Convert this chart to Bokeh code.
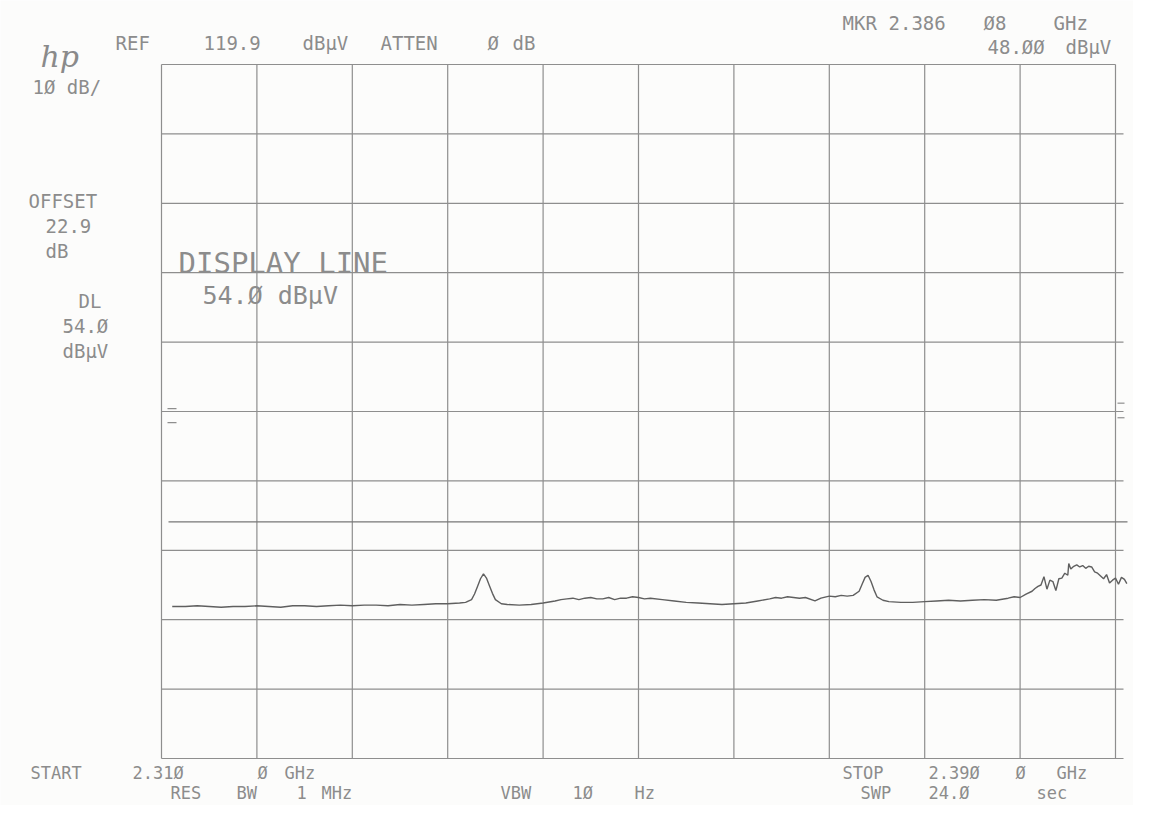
from bokeh.plotting import figure
from bokeh.models import Range1d, Label
from bokeh.embed import file_html
from bokeh.resources import INLINE

# ---------------- chart values ----------------
start_mhz = 2310.0
stop_mhz = 2390.0
ref_level_dbuv = 119.9
db_per_div = 10
n_xdiv = 10
n_ydiv = 10
display_line_dbuv = 54.0
marker_mhz = 2386.08
marker_dbuv = 48.00
left_marks_dbuv = [70.3, 68.3]
right_marks_dbuv = [71.1, 69.0]

freq_mhz = [
    2310.9, 2312, 2313, 2314, 2315, 2316, 2317, 2318, 2319, 2320,
    2321, 2322, 2323, 2324, 2325, 2326, 2327, 2328, 2329, 2330,
    2331, 2332, 2333, 2334, 2335, 2335.5, 2336.0, 2336.25, 2336.5, 2336.75,
    2337.0, 2337.25, 2337.5, 2337.75, 2338.0, 2338.5, 2339, 2340, 2341, 2342,
    2343, 2343.5, 2344, 2344.5, 2345, 2345.5, 2346, 2346.5, 2347, 2347.5,
    2348, 2348.5, 2349, 2349.5, 2350, 2350.5, 2351, 2352, 2353, 2354,
    2355, 2356, 2357, 2358, 2359, 2360, 2361, 2361.5, 2362, 2362.5,
    2363, 2363.5, 2364, 2364.8, 2365.3, 2366, 2366.5, 2367, 2367.5, 2368,
    2368.5, 2368.75, 2369.0, 2369.25, 2369.5, 2369.75, 2370.0, 2370.5, 2371, 2372,
    2373, 2374, 2375, 2376, 2377, 2378, 2379, 2380, 2381, 2381.5,
    2382, 2382.5, 2383, 2383.25, 2383.5, 2383.75, 2384.0, 2384.25, 2384.5, 2384.75,
    2385.0, 2385.25, 2385.5, 2385.75, 2386.0, 2386.08, 2386.25, 2386.5, 2386.75, 2387.0,
    2387.25, 2387.5, 2387.75, 2388.0, 2388.25, 2388.5, 2388.75, 2389.0, 2389.25, 2389.5,
    2389.75, 2390.0, 2390.25, 2390.5, 2390.75, 2390.95,
]
level_dbuv = [
    41.8, 41.8, 41.9, 41.8, 41.7, 41.8, 41.8, 41.9, 41.8, 41.7,
    41.9, 41.9, 41.8, 41.9, 42.0, 41.9, 42.0, 42.0, 41.9, 42.1,
    42.0, 42.1, 42.2, 42.2, 42.3, 42.4, 42.8, 43.6, 44.7, 45.8,
    46.5, 45.9, 44.8, 43.7, 42.8, 42.2, 42.1, 42.0, 42.1, 42.3,
    42.6, 42.8, 42.9, 43.0, 42.8, 43.0, 43.1, 42.9, 42.9, 43.1,
    42.8, 43.0, 43.0, 43.2, 43.1, 42.9, 43.0, 42.8, 42.6, 42.4,
    42.3, 42.2, 42.1, 42.2, 42.3, 42.6, 42.9, 43.1, 43.0, 43.2,
    43.1, 43.0, 43.1, 42.6, 43.0, 43.3, 43.2, 43.4, 43.3, 43.4,
    44.0, 45.0, 46.0, 46.3, 45.4, 44.2, 43.2, 42.7, 42.5, 42.4,
    42.4, 42.5, 42.6, 42.7, 42.6, 42.7, 42.8, 42.7, 43.0, 43.2,
    43.1, 43.6, 44.0, 44.4, 44.7, 44.9, 46.1, 44.3, 45.6, 45.4,
    44.1, 45.8, 45.9, 46.6, 46.3, 48.0, 47.2, 47.6, 47.8, 47.5,
    47.7, 47.3, 47.6, 47.5, 46.8, 46.6, 46.2, 45.8, 46.4, 45.2,
    45.6, 45.9, 45.0, 46.0, 45.7, 45.1,
]

# ---------------- layout (pixel geometry of the reference) ----------------
W, H = 1133, 805
GL, GR, GT, GB = 161, 1115, 64, 758   # grid box in picture pixels

px_per_mhz = (GR - GL) / (stop_mhz - start_mhz)
px_per_db = (GB - GT) / (db_per_div * n_ydiv)
x_start = start_mhz - GL / px_per_mhz
x_end = x_start + W / px_per_mhz
y_top = ref_level_dbuv + GT / px_per_db
y_bottom = y_top - H / px_per_db


def X(px):
    return x_start + px / px_per_mhz


def Y(py):
    return y_top - py / px_per_db


PAPER = "#fcfcfb"
GRID_C = "#8e8e8e"
TEXT_C = "#8c8c8c"
TRACE_C = "#5f5f5f"
FONT = "DejaVu Sans Mono"

p = figure(width=W, height=H, x_range=Range1d(x_start, x_end),
           y_range=Range1d(y_bottom, y_top), output_backend="svg",
           toolbar_location=None, min_border=0, x_axis_location=None,
           y_axis_location=None, background_fill_color=PAPER,
           border_fill_color=PAPER)
p.grid.visible = False
p.outline_line_color = None

bottom_level = ref_level_dbuv - db_per_div * n_ydiv
div_mhz = (stop_mhz - start_mhz) / n_xdiv

# vertical grid lines
vx = [start_mhz + k * div_mhz for k in range(n_xdiv + 1)]
p.segment(x0=vx, y0=[bottom_level] * len(vx), x1=vx,
          y1=[ref_level_dbuv] * len(vx), line_color=GRID_C, line_width=1.2)

# horizontal grid lines (slight overshoot on the right, like the plotter)
hy = [bottom_level + k * db_per_div for k in range(n_ydiv + 1)]
over = X(GR + 8) - stop_mhz
hx1 = [stop_mhz + (over if k < n_ydiv else 0) for k in range(n_ydiv + 1)]
p.segment(x0=[start_mhz] * len(hy), y0=hy, x1=hx1, y1=hy,
          line_color=GRID_C, line_width=1.2)

# display line
p.segment(x0=[X(168)], y0=[display_line_dbuv], x1=[X(1127)],
          y1=[display_line_dbuv], line_color="#777777", line_width=1.4)

# small edge marks
p.segment(x0=[X(167)] * 2, y0=left_marks_dbuv, x1=[X(176)] * 2,
          y1=left_marks_dbuv, line_color=GRID_C, line_width=1.2)
p.segment(x0=[X(1117)] * 2, y0=right_marks_dbuv, x1=[X(1124)] * 2,
          y1=right_marks_dbuv, line_color=GRID_C, line_width=1.2)

# trace
p.line(freq_mhz, level_dbuv, line_color=TRACE_C, line_width=1.4)

# ---------------- annotation texts ----------------
texts = [
    # (text, left px, center px, size px)
    ("REF", 115, 42, 19), ("119.9", 203, 42, 19), ("dBµV", 302, 42, 19),
    ("ATTEN", 380, 42, 19), ("Ø", 487, 42, 19), ("dB", 512, 42, 19),
    ("MKR", 842, 22, 19), ("2.386", 888, 22, 19), ("Ø8", 983, 22, 19),
    ("GHz", 1053, 22, 19),
    ("48.ØØ", 987, 46, 19), ("dBµV", 1065, 46, 19),
    ("1Ø dB/", 32, 86, 19),
    ("OFFSET", 28, 200, 19), ("22.9", 45, 225, 19), ("dB", 45, 250, 19),
    ("DL", 78, 300, 19), ("54.Ø", 62, 325, 19), ("dBµV", 62, 350, 19),
    ("DISPLAY LINE", 178, 262, 29), ("54.Ø dBµV", 202, 295, 25),
    ("START", 30, 772, 17), ("2.31Ø", 132, 772, 17), ("Ø", 257, 772, 17),
    ("GHz", 284, 772, 17),
    ("RES", 170, 792, 17), ("BW", 236, 792, 17), ("1", 296, 792, 17),
    ("MHz", 321, 792, 17),
    ("VBW", 500, 792, 17), ("1Ø", 572, 792, 17), ("Hz", 634, 792, 17),
    ("STOP", 842, 772, 17), ("2.39Ø", 928, 772, 17), ("Ø", 1015, 772, 17),
    ("GHz", 1056, 772, 17),
    ("SWP", 860, 792, 17), ("24.Ø", 928, 792, 17), ("sec", 1036, 792, 17),
]
for t, lx, cy, fs in texts:
    p.add_layout(Label(x=X(lx), y=Y(cy), text=t, text_font=FONT,
                       text_font_size=f"{fs}px", text_color=TEXT_C,
                       text_baseline="middle", text_align="left"))

# hp logo
p.add_layout(Label(x=X(40), y=Y(56), text="hp", text_font="DejaVu Serif",
                   text_font_style="italic", text_font_size="30px",
                   text_color="#8a8a8a", text_baseline="middle",
                   text_align="left"))

open("out.html", "w").write(file_html(p, INLINE))
